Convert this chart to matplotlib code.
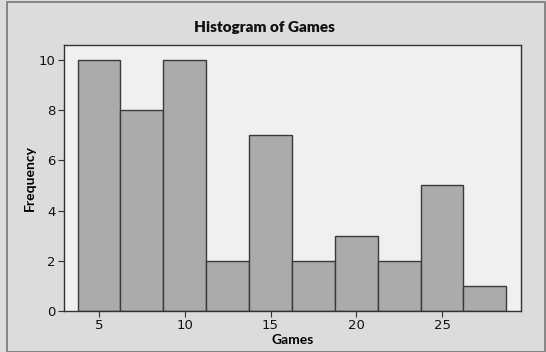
import matplotlib
matplotlib.use("Agg")
import matplotlib.pyplot as plt
from matplotlib.patches import Rectangle

bin_centers = [5, 7.5, 10, 12.5, 15, 17.5, 20, 22.5, 25, 27.5]
counts = [10, 8, 10, 2, 7, 2, 3, 2, 5, 1]
bin_width = 2.5
x_ticks = [5, 10, 15, 20, 25]
y_ticks = [0, 2, 4, 6, 8, 10]

plt.rcParams['font.family'] = ['DejaVu Sans']

fig = plt.figure(figsize=(5.46, 3.52), dpi=100, facecolor='#dcdcdc')
ax = fig.add_axes([0.117, 0.117, 0.837, 0.755])
ax.set_facecolor('#f0f0f0')

ax.bar(bin_centers, counts, width=bin_width, color='#ababab',
       edgecolor='#3a3a3a', linewidth=1.0, zorder=2)

ax.set_xlim(2.95, 29.6)
ax.set_ylim(0, 10.6)
ax.set_xticks(x_ticks)
ax.set_yticks(y_ticks)
ax.tick_params(axis='both', direction='out', length=4, width=0.8,
               color='#333333', labelsize=9.5, labelcolor='#111111', pad=2)
for s in ax.spines.values():
    s.set_color('#333333')
    s.set_linewidth(1.0)

ax.set_xlabel('Games', fontsize=10, fontweight='bold', labelpad=1,
              family=['Lato', 'DejaVu Sans'])
ax.set_ylabel('Frequency', fontsize=10, fontweight='bold', labelpad=2,
              family=['Lato', 'DejaVu Sans'])
fig.text(0.485, 0.923, 'Histogram of Games', ha='center', va='center',
         fontsize=11, fontweight='heavy', color='#111111',
         family=['Lato', 'DejaVu Sans'])

# outer frame of the graph window
fig.patches.append(Rectangle((7/546, 0.0), 1 - 7/546 - 0.002, 1 - 2/352,
                             transform=fig.transFigure, fill=False,
                             edgecolor='#777777', linewidth=1.2))

fig.savefig('out.png', dpi=100, facecolor=fig.get_facecolor())
